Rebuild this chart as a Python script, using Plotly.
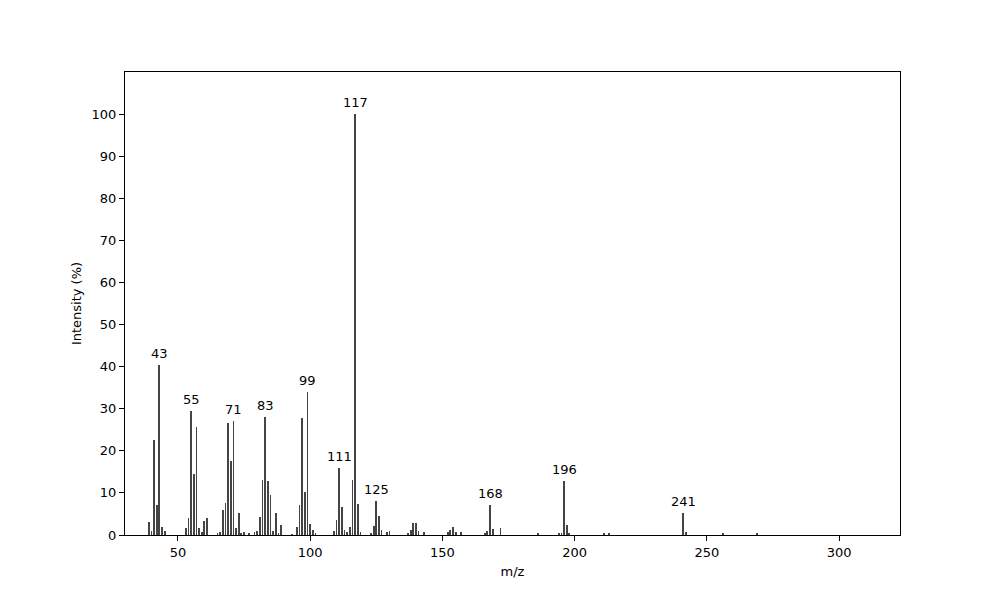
"""Mass spectrum stick plot (relative intensity vs m/z)."""
import plotly.graph_objects as go

# m/z values of the observed peaks
mz = [39, 40, 41, 42, 43, 44, 45,
      53, 54, 55, 56, 57, 58, 59, 60, 61,
      65, 66, 67, 68, 69, 70, 71, 72, 73, 74, 75, 77, 79, 80,
      81, 82, 83, 84, 85, 86, 87, 88, 89, 93,
      95, 96, 97, 98, 99, 100, 101, 102,
      109, 110, 111, 112, 113, 114, 115, 116, 117, 118, 119,
      123, 124, 125, 126, 127, 129, 130,
      137, 138, 139, 140, 141, 143,
      152, 153, 154, 155, 157,
      166, 167, 168, 169, 172,
      186, 194, 195, 196, 197, 198, 211, 213,
      241, 242, 256, 269]

# relative intensity (%) for each m/z above
intensity = [3.2, 0.9, 22.6, 7.1, 40.5, 1.8, 0.9,
             1.6, 4.0, 29.5, 14.5, 25.6, 1.6, 0.7, 3.4, 4.0,
             0.3, 0.7, 6.0, 7.5, 26.7, 17.6, 27.1, 1.6, 5.2, 0.5, 0.8,
             0.3, 0.7, 0.9,
             4.3, 13.1, 28.0, 12.9, 9.4, 0.9, 5.3, 0.5, 2.3, 0.2,
             2.0, 7.1, 27.9, 10.2, 34.0, 2.6, 1.3, 0.3,
             1.0, 3.6, 15.9, 6.7, 1.3, 0.7, 2.0, 13.1, 100.0, 7.4, 0.7,
             0.4, 2.1, 8.1, 4.5, 1.1, 0.6, 0.9,
             0.4, 1.3, 2.9, 2.9, 0.9, 0.6,
             0.6, 1.3, 2.0, 0.6, 0.6,
             0.4, 0.9, 7.1, 1.4, 1.7,
             0.3, 0.3, 0.4, 12.9, 2.4, 0.3, 0.3, 0.4,
             5.3, 0.8, 0.3, 0.5]

# peaks that carry an m/z label
labelled_peaks = [43, 55, 71, 83, 99, 111, 117, 125, 168, 196, 241]

x_ticks = [50, 100, 150, 200, 250, 300]
y_ticks = [0, 10, 20, 30, 40, 50, 60, 70, 80, 90, 100]

font = "DejaVu Sans, Liberation Sans, sans-serif"

fig = go.Figure()
fig.add_trace(go.Bar(
    x=mz,
    y=intensity,
    width=0.3,
    marker=dict(color="#444444", line=dict(width=0)),
    showlegend=False,
))

peak_height = dict(zip(mz, intensity))
for peak in labelled_peaks:
    fig.add_annotation(
        x=peak,
        y=peak_height[peak],
        text=str(peak),
        showarrow=False,
        yanchor="bottom",
        yshift=2,
        font=dict(family=font, size=13, color="black"),
    )

axis_style = dict(
    showgrid=False,
    zeroline=False,
    showline=True,
    linecolor="black",
    linewidth=1,
    mirror=True,
    ticks="outside",
    ticklen=5,
    tickwidth=1,
    tickcolor="black",
    tickfont=dict(family=font, size=13, color="black"),
)

# margins compensate for the page's own 8px body offset
fig.update_layout(
    width=1000,
    height=600,
    margin=dict(l=117, r=108, t=64, b=73),
    paper_bgcolor="white",
    plot_bgcolor="white",
    bargap=0,
    xaxis=dict(
        range=[30, 323],
        tickvals=x_ticks,
        title=dict(text="m/z", font=dict(family=font, size=13, color="black"),
                   standoff=8),
        **axis_style,
    ),
    yaxis=dict(
        range=[0, 110],
        tickvals=y_ticks,
        title=dict(text="Intensity (%)",
                   font=dict(family=font, size=13, color="black"),
                   standoff=7),
        **axis_style,
    ),
)

fig.write_html("out.html")
